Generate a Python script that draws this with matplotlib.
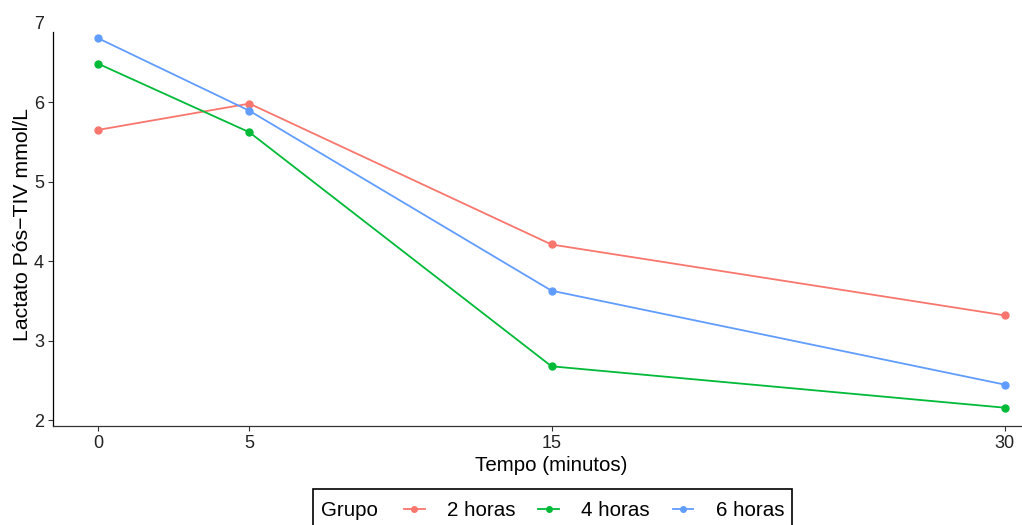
import matplotlib
matplotlib.use('Agg')
import matplotlib.pyplot as plt
from matplotlib.patches import Rectangle

plt.rcParams['font.family'] = ['Liberation Sans', 'DejaVu Sans']

tempo = [0, 5, 15, 30]
grupos = ['2 horas', '4 horas', '6 horas']
lactato_2h = [5.65, 5.98, 4.21, 3.32]
lactato_4h = [6.48, 5.62, 2.68, 2.16]
lactato_6h = [6.80, 5.89, 3.63, 2.45]
cores = ['#F8766D', '#00BA38', '#619CFF']

fig = plt.figure(figsize=(10.22, 5.25), dpi=100)
ax = fig.add_axes([53 / 1022, 1 - 426 / 525, (1050 - 53) / 1022, (426 - 22.4) / 525])

series = [lactato_2h, lactato_4h, lactato_6h]
handles = []
for nome, vals, cor in zip(grupos, series, cores):
    h, = ax.plot(tempo, vals, color=cor, lw=1.3, marker='o', ms=5, label=nome)
    handles.append(h)

ax.set_xlim(-1.5, 31.5)
ax.set_ylim(1.93, 7.0)
ax.set_xticks(tempo)
ax.set_yticks([2, 3, 4, 5, 6, 7])
for s in ['top', 'right']:
    ax.spines[s].set_visible(False)
ax.spines['left'].set_bounds(1.93, 6.88)
ax.spines['left'].set_linewidth(0.9)
ax.spines['bottom'].set_linewidth(0.9)
ax.spines['bottom'].set_color('#333333')
ax.tick_params(axis='both', labelsize=13, colors='#333333', length=3.5, width=0.8, pad=3)
ax.tick_params(axis='y', labelcolor='#222222')
ax.tick_params(axis='x', labelcolor='#222222')
ax.yaxis.get_major_ticks()[-1].tick1line.set_visible(False)

ax.set_xlabel('Tempo (minutos)', fontsize=14.8, labelpad=3)
ax.set_ylabel('Lactato Pós\u2212TIV mmol/L', fontsize=15.3, labelpad=1.5)

# caixa da legenda
fig.patches.append(Rectangle((313 / 1022, -0.02), (792 - 313) / 1022, 0.02 + 1 - 489 / 525,
                             transform=fig.transFigure, fill=False, ec='black', lw=1.2))
fig.text(321 / 1022, 1 - 511 / 525, 'Grupo', fontsize=14.8, va='center', ha='left')
fig.legend(handles=handles, labels=grupos, loc='center left',
           bbox_to_anchor=(404 / 1022, 1 - 511 / 525), ncol=3, frameon=False,
           fontsize=14.8, handlelength=1.0, handletextpad=1.1, columnspacing=1.1,
           borderaxespad=0, borderpad=0, markerscale=0.8)

fig.savefig('out.png', dpi=100)
